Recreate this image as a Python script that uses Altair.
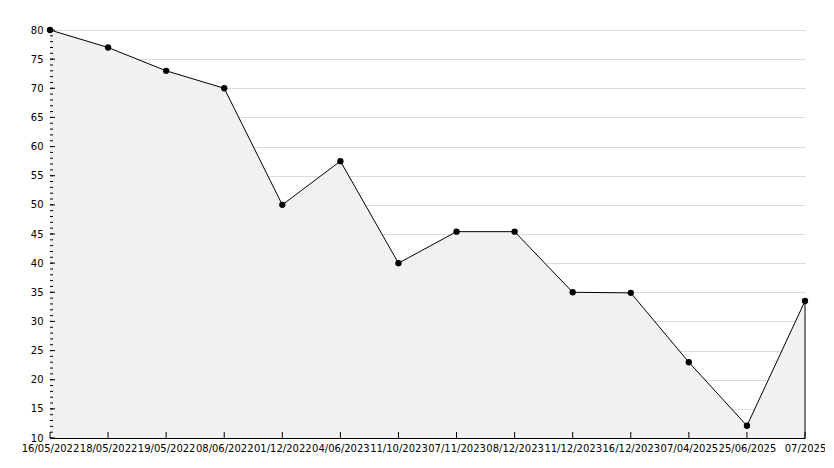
import altair as alt
import pandas as pd

dates = ["16/05/2022", "18/05/2022", "19/05/2022", "08/06/2022", "01/12/2022",
         "04/06/2023", "11/10/2023", "07/11/2023", "08/12/2023", "11/12/2023",
         "16/12/2023", "07/04/2025", "25/06/2025", "07/2025"]
values = [80, 77, 73, 70, 50, 57.5, 40, 45.4, 45.4, 35, 34.9, 23, 12.1, 33.5]

major_ticks = [10, 15, 20, 25, 30, 35, 40, 45, 50, 55, 60, 65, 70, 75, 80]
minor_ticks = list(range(10, 81))

W, H = 755, 408
FONT = "DejaVu Sans"

df = pd.DataFrame({"date": dates, "value": values})
df_major = pd.DataFrame({"value": major_ticks})
df_minor = pd.DataFrame({"value": minor_ticks})

xscale = alt.Scale(type="point", padding=0, domain=dates)
yscale = alt.Scale(domain=[10, 80], nice=False, zero=False)

xaxis = alt.Axis(title=None, labelAngle=0, tickSize=0, labelPadding=5,
                 domainColor="black", labelFont=FONT, labelFontSize=10,
                 labelColor="black", grid=False, labelOverlap=False,
                 labelBound=False, labelFlush=False)
yaxis = alt.Axis(title=None, values=major_ticks, tickSize=0, labelPadding=7,
                 domainColor="black", labelFont=FONT, labelFontSize=10,
                 labelColor="black", grid=True, gridColor="#dcdcdc",
                 gridWidth=1, labelOverlap=False, labelFlush=False)


def X():
    return alt.X("date:N", sort=dates, scale=xscale, axis=xaxis)


def Y():
    return alt.Y("value:Q", scale=yscale, axis=yaxis)


base = alt.Chart(df)
area = base.mark_area(color="#f1f1f1", opacity=1).encode(x=X(), y=Y(), y2=alt.datum(10))
line = base.mark_line(color="black", strokeWidth=1).encode(x=X(), y=Y())
right_edge = base.transform_filter(alt.datum.date == dates[-1]).mark_rule(
    color="black", strokeWidth=1).encode(x=X(), y=Y(), y2=alt.datum(10))
pts = base.mark_point(shape="circle", filled=True, color="black", size=40,
                      opacity=1).encode(x=X(), y=Y())

xticks = base.mark_rule(color="black", strokeWidth=1).encode(
    x=X(), y=alt.value(H), y2=alt.value(H - 6))
ymaj = alt.Chart(df_major).mark_rule(color="black", strokeWidth=1).encode(
    y=Y(), x=alt.value(0), x2=alt.value(5))
ymin = alt.Chart(df_minor).mark_rule(color="black", strokeWidth=1).encode(
    y=Y(), x=alt.value(0), x2=alt.value(3))

chart = alt.layer(area, right_edge, line, xticks, ymin, ymaj, pts).properties(
    width=W, height=H,
    background="white",
    autosize=alt.AutoSizeParams(type="none"),
    padding={"left": 42, "top": 22, "right": 20, "bottom": 22},
).configure_view(stroke=None)

chart.save("out.html", embed_options={"renderer": "svg", "actions": False})
